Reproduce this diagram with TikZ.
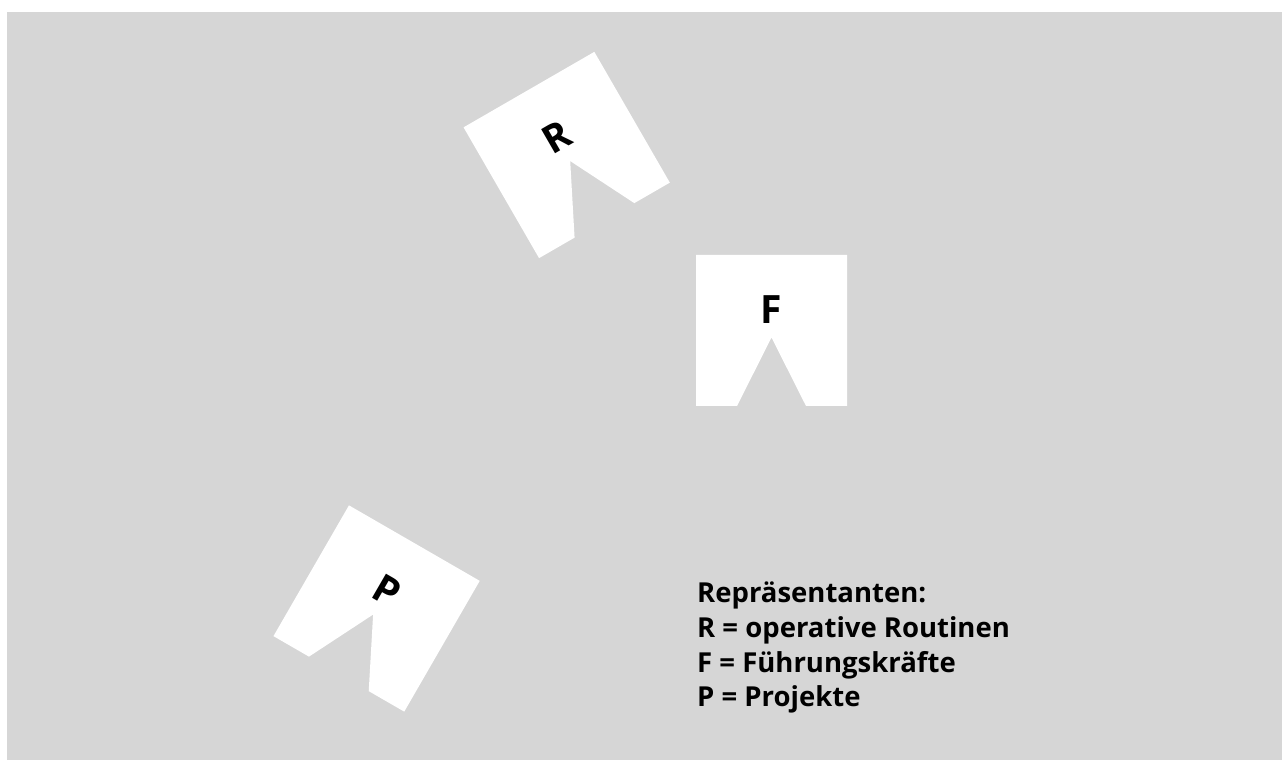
\documentclass[tikz,border=0pt]{standalone}
\usepackage{fontspec}
\setmainfont{Open Sans}
\definecolor{panelgray}{RGB}{214,214,214}
\tikzset{
  tile/.style={fill=white, draw=none},
  tileletter/.style={font=\fontsize{39}{41}\selectfont\bfseries, inner sep=0pt},
  legendline/.style={font=\fontsize{27.5}{35}\selectfont\bfseries, inner sep=0pt, anchor=base west},
}
% A square tile with a triangular notch cut from its lower edge
\newcommand{\notchtile}[3]{%
  \begin{scope}[shift={(#1)}, rotate=#2]
    \path[tile] (-75.5,-75.5) -- (-34.5,-75.5) -- (0,-7) -- (34.5,-75.5)
      -- (75.5,-75.5) -- (75.5,75.5) -- (-75.5,75.5) -- cycle;
    \node[tileletter, rotate=#2] (#3) at (0,20.5) {#3};
  \end{scope}}
\begin{document}
\begin{tikzpicture}[x=1pt,y=1pt]
  \useasboundingbox (0,0) rectangle (1282,760);
  \fill[panelgray] (7,0) rectangle (1282,748);

  \notchtile{566.7,605}{30}{R}
  \notchtile{771.5,429.5}{0}{F}
  \notchtile{376.6,151.5}{-30}{P}

  \node[legendline] (leg1) at (697,157) {Repräsentanten:};
  \node[legendline] (leg2) at (697,122) {R = operative Routinen};
  \node[legendline] (leg3) at (697,87) {F = Führungskräfte};
  \node[legendline] (leg4) at (697,53) {P = Projekte};
\end{tikzpicture}
\end{document}
